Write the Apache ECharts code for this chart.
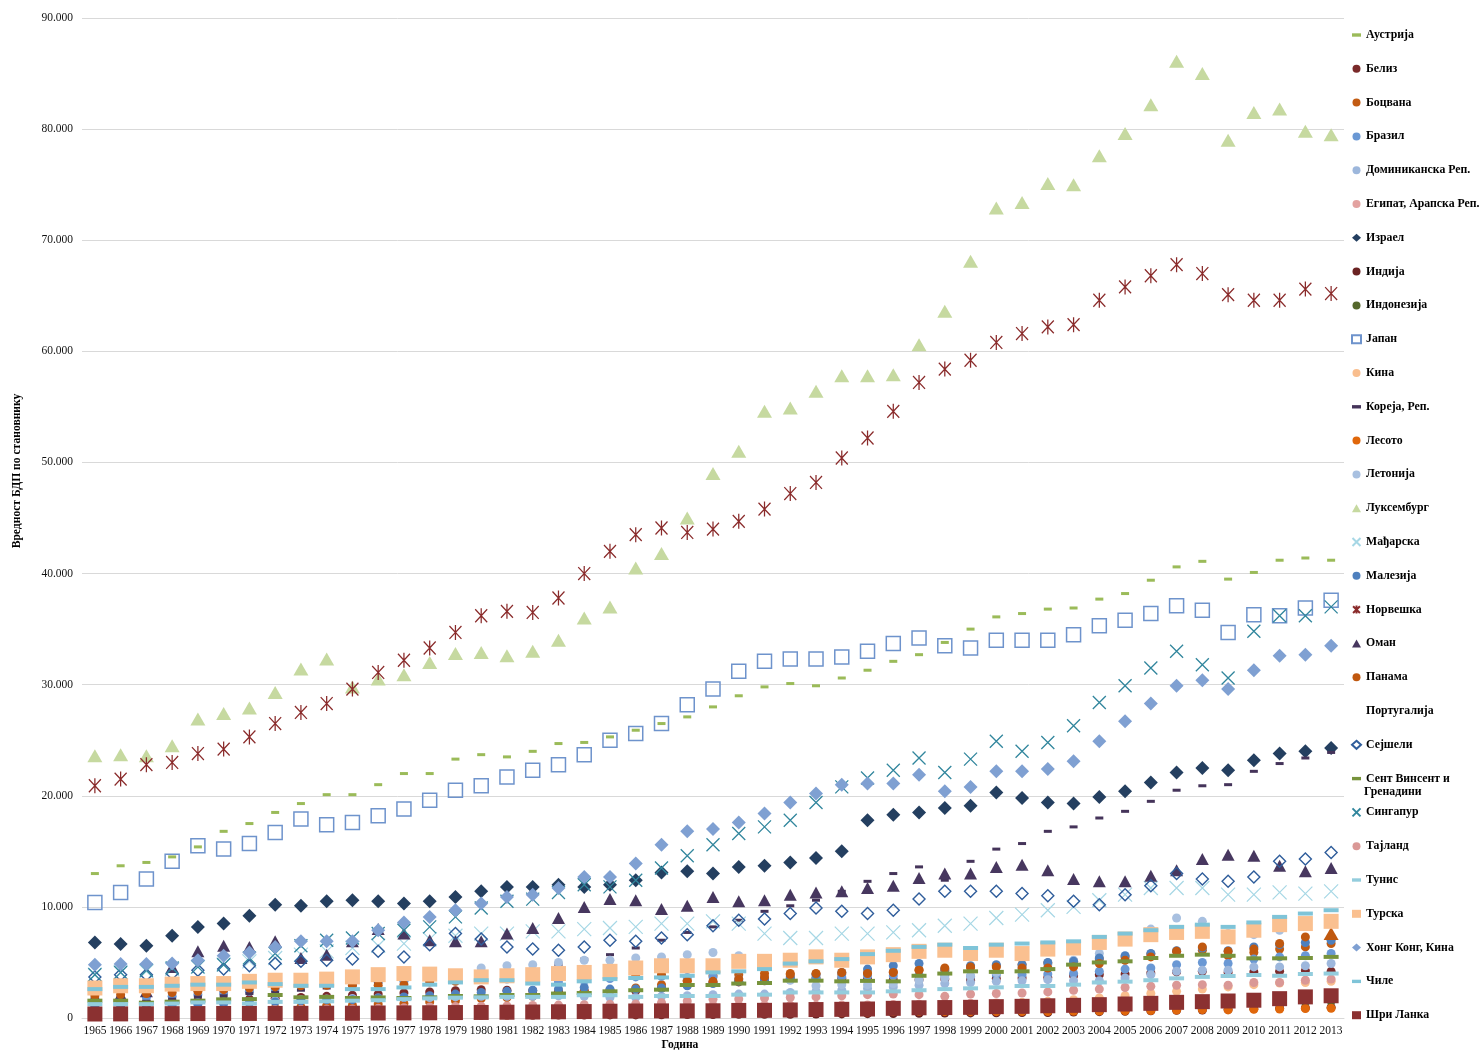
<!DOCTYPE html>
<html>
<head>
<meta charset="utf-8">
<script src="https://cdn.jsdelivr.net/npm/echarts@6/dist/echarts.min.js"></script>
<style>
  html, body { margin: 0; padding: 0; background: #fff; }
  #chart { width: 1483px; height: 1051px; }
</style>
</head>
<body>
<div id="chart"></div>
<script>
// GDP per capita, 1965–2013
const years = ['1965','1966','1967','1968','1969','1970','1971','1972','1973','1974',
  '1975','1976','1977','1978','1979','1980','1981','1982','1983','1984',
  '1985','1986','1987','1988','1989','1990','1991','1992','1993','1994',
  '1995','1996','1997','1998','1999','2000','2001','2002','2003','2004',
  '2005','2006','2007','2008','2009','2010','2011','2012','2013'];

const yTicks = [0, 10000, 20000, 30000, 40000, 50000, 60000, 70000, 80000, 90000];

const austria = [13000,13700,14000,14500,15400,16800,17500,18500,19300,20100,
  20100,21000,22000,22000,23300,23700,23500,24000,24700,24800,
  25300,25900,26500,27100,28000,29000,29800,30100,29900,30600,
  31300,32100,32700,33800,35000,36100,36400,36800,36900,37700,
  38200,39400,40600,41100,39500,40100,41200,41400,41200];
const belize = [1350,1400,1450,1500,1550,1620,1700,1780,1850,1950,
  2050,2150,2250,2350,2450,2550,2500,2450,2400,2450,
  2450,2450,2700,2950,3200,3250,3350,3550,3600,3550,
  3500,3450,3450,3500,3400,3550,3600,3650,3800,3900,
  3950,4050,4150,4200,4100,4150,4200,4250,4200];
const botswana = [400,420,450,480,550,620,720,850,1000,1100,
  1150,1250,1300,1450,1550,1750,1850,1950,2200,2400,
  2500,2700,3000,3400,3800,3900,4000,4000,3950,3950,
  4050,4150,4350,4300,4550,4700,4800,4950,5100,5300,
  5500,5750,6000,6100,5600,5900,6200,6400,6700];
const brazil = [1750,1800,1850,1950,2100,2250,2400,2600,2850,3000,
  3050,3250,3300,3400,3550,3750,3500,3450,3250,3350,
  3550,3700,3750,3650,3700,3500,3500,3450,3550,3700,
  3800,3800,3850,3800,3750,3900,3900,3950,4000,4200,
  4400,4500,4800,5000,4900,5300,5500,5600,5800];
const dominican = [1050,1150,1150,1150,1250,1350,1450,1550,1650,1700,
  1750,1800,1850,1850,1900,1950,1950,1950,2000,1950,
  1850,1850,1950,2000,2100,2150,2150,2300,2400,2500,
  2650,2800,2950,3100,3200,3300,3350,3450,3350,3350,
  3600,3900,4200,4300,4300,4600,4600,4700,4900];
const egypt = [450,460,460,470,500,520,530,540,550,570,
  620,700,780,800,860,900,920,980,1020,1050,
  1080,1080,1100,1120,1130,1140,1130,1140,1140,1160,
  1180,1210,1240,1280,1320,1360,1370,1370,1380,1400,
  1430,1500,1560,1620,1650,1700,1680,1670,1680];
const israel = [6800,6650,6500,7400,8200,8500,9200,10200,10100,10500,
  10600,10500,10300,10500,10900,11400,11800,11800,12000,11800,
  12000,12400,13100,13200,13000,13600,13700,14000,14400,15000,
  17800,18300,18500,18900,19100,20300,19800,19400,19300,19900,
  20400,21200,22100,22500,22300,23200,23800,24000,24300];
const india = [220,210,210,220,230,230,230,220,220,220,
  230,230,240,250,230,240,250,250,260,270,
  280,280,290,310,320,330,330,340,350,370,
  390,410,420,440,460,470,490,500,530,570,
  610,650,700,720,770,840,880,910,960];
const indonesia = [240,240,230,250,270,280,290,310,330,340,
  350,370,390,410,420,450,480,490,510,540,
  550,580,600,630,670,710,750,790,840,890,
  950,1010,1040,880,880,920,950,980,1010,1050,
  1090,1130,1180,1240,1280,1340,1400,1460,1520];
const japan = [10400,11300,12500,14100,15500,15200,15700,16700,17900,17400,
  17600,18200,18800,19600,20500,20900,21700,22300,22800,23700,
  25000,25600,26500,28200,29600,31200,32100,32300,32300,32500,
  33000,33700,34200,33500,33300,34000,34000,34000,34500,35300,
  35800,36400,37100,36700,34700,36300,36200,36900,37600];
const china = [140,150,140,130,150,170,180,180,190,190,
  200,200,210,230,240,260,270,290,310,350,
  390,420,460,500,510,530,570,650,730,820,
  900,980,1060,1130,1210,1300,1400,1500,1650,1800,
  2000,2200,2400,2600,2800,3000,3150,3200,3300];
const korea = [1300,1400,1500,1700,1900,2000,2200,2300,2500,2700,
  2900,3200,3500,3800,4000,3800,4000,4300,4800,5300,
  5700,6300,7000,7700,8200,8800,9600,10100,10600,11400,
  12300,13000,13600,12400,14100,15200,15700,16800,17200,18000,
  18600,19500,20500,20900,21000,22200,22900,23400,23900];
const lesotho = [220,230,230,240,250,260,250,290,330,330,
  320,360,390,450,440,440,430,410,380,390,
  390,390,400,420,450,470,480,500,510,520,
  530,570,600,570,570,570,580,590,610,630,
  640,680,710,750,730,780,810,850,880];
const latvia = [null,null,null,null,null,null,null,null,null,null,
  null,null,null,null,null,4500,4700,4800,5000,5200,
  5200,5400,5500,5700,5900,5600,5000,3400,2900,3000,
  3000,3100,3400,3600,3800,4100,4500,4800,5200,5800,
  6900,8000,9000,8700,7600,7500,7900,8300,8600];
const luxembourg = [23600,23700,23600,24500,26900,27400,27900,29300,31400,32300,
  29800,30500,30900,32000,32800,32900,32600,33000,34000,36000,
  37000,40500,41800,45000,49000,51000,54600,54900,56400,57800,
  57800,57900,60600,63600,68100,72900,73400,75100,75000,77600,
  79600,82200,86100,85000,79000,81500,81800,79800,79500];
const hungary = [3900,4100,4200,4400,4600,4800,5100,5400,5700,6000,
  6300,6500,6700,7100,7400,7600,7600,7800,7800,8000,
  8100,8200,8500,8500,8700,8500,7600,7200,7200,7600,
  7600,7700,7900,8300,8500,9000,9300,9700,10000,10600,
  11100,11700,11700,11700,11100,11100,11300,11200,11400];
const malaysia = [1100,1150,1150,1200,1250,1300,1350,1450,1550,1650,
  1650,1800,1900,2000,2150,2300,2400,2500,2600,2750,
  2600,2600,2700,2900,3100,3300,3500,3700,3900,4100,
  4400,4700,4900,4400,4700,4800,4800,5000,5100,5400,
  5600,5800,6050,6300,6050,6400,6600,6800,7000];
const norway = [20900,21500,22800,23000,23800,24200,25300,26500,27500,28300,
  29600,31100,32200,33300,34700,36200,36600,36500,37800,40000,
  42000,43500,44100,43700,44000,44700,45800,47200,48200,50400,
  52200,54600,57200,58400,59200,60800,61600,62200,62400,64600,
  65800,66800,67800,67000,65100,64600,64600,65600,65200];
const oman = [1900,2100,2400,4600,6000,6500,6400,6900,5400,5700,
  6900,8000,7600,7000,6900,6900,7600,8100,9000,10000,
  10700,10600,9800,10100,10900,10500,10600,11100,11300,11400,
  11700,11900,12600,13000,13000,13600,13800,13300,12500,12300,
  12300,12800,13300,14300,14700,14600,13700,13200,13500];
const panama = [2000,2100,2200,2300,2400,2550,2700,2800,2900,2950,
  2950,2950,3000,3250,3300,3700,3800,3900,3800,3700,
  3800,3900,3900,3300,3300,3500,3700,3900,4000,4100,
  4000,4100,4300,4500,4600,4600,4500,4500,4600,4900,
  5200,5500,6000,6400,6000,6200,6700,7300,7600];
const portugal = []; // listed in the legend, no markers plotted
const seychelles = [3700,3900,3900,4000,4300,4400,4700,4900,5100,5200,
  5300,6000,5500,6600,7600,7100,6400,6200,6100,6400,
  7000,6900,7200,7500,8300,8800,8900,9400,9900,9600,
  9400,9700,10700,11400,11400,11400,11200,11000,10500,10200,
  11100,11900,13000,12500,12300,12700,14100,14300,14900];
const stVincent = [1560,1560,1380,1470,1560,1680,1700,2070,1860,1900,
  1800,1850,1800,1860,1980,1950,2070,2070,2200,2250,
  2400,2500,2550,2970,2970,3100,3150,3360,3360,3300,
  3340,3300,3800,4000,4200,4150,4200,4400,4800,5000,
  5100,5400,5600,5700,5600,5370,5370,5400,5500];
const singapore = [3900,4100,4300,4500,4600,4800,5400,5800,6500,7000,
  7200,7600,7900,8200,9100,9900,10500,10700,11300,12000,
  11800,12400,13500,14600,15600,16600,17200,17800,19400,20800,
  21600,22300,23400,22100,23300,24900,24000,24800,26300,28400,
  29900,31500,33000,31800,30600,34800,36200,36200,37000];
const thailand = [550,600,620,650,680,700,720,740,780,800,
  820,870,930,1000,1030,1050,1090,1120,1160,1200,
  1230,1270,1370,1520,1690,1700,1800,1850,1900,2000,
  2100,2150,2100,1950,2150,2200,2250,2350,2500,2600,
  2750,2850,2950,3000,2950,3200,3200,3400,3500];
const tunisia = [1250,1250,1250,1300,1400,1400,1300,1450,1450,1500,
  1560,1600,1700,1770,1830,1860,1900,1900,1900,2050,
  2050,1900,1980,1980,1980,2100,2100,2300,2300,2300,
  2300,2400,2500,2600,2670,2760,2880,2880,3000,3200,
  3270,3400,3570,3700,3780,3870,3800,3960,4000];
const turkey = [2700,2900,2900,3050,3100,3100,3300,3400,3400,3500,
  3700,3900,4000,3950,3800,3700,3800,3900,4000,4100,
  4200,4500,4700,4700,4700,5100,5100,5200,5500,5200,
  5500,5700,6000,6100,5800,6100,5800,6200,6300,6800,
  7100,7500,7700,7800,7300,7900,8400,8500,8700];
const hongKong = [4800,4850,4850,4900,5200,5600,5900,6400,6900,6900,
  6900,7900,8600,9100,9700,10300,10900,11100,11700,12700,
  12700,13900,15600,16800,17000,17600,18400,19400,20200,21000,
  21100,21100,21900,20400,20800,22200,22200,22400,23100,24900,
  26700,28300,29900,30400,29600,31300,32600,32700,33500];
const chile = [2600,2800,2800,2900,3000,3000,3200,3050,2900,2900,
  2600,2600,2750,3000,3200,3400,3400,3100,3000,3300,
  3500,3600,3650,3800,4100,4200,4400,4900,5100,5300,
  5750,6050,6400,6600,6300,6600,6700,6800,6900,7300,
  7600,7900,8200,8400,8200,8600,9100,9400,9700];
const sriLanka = [360,370,380,390,400,410,410,410,420,430,
  430,450,460,470,490,500,520,540,560,580,
  610,630,640,640,650,680,690,720,760,780,
  810,870,920,940,960,1020,1050,1100,1140,1200,
  1260,1320,1410,1470,1530,1600,1740,1900,2000];

// Marker shapes
const X_PATH = 'path://M0,0L10,10M10,0L0,10';
const STAR_PATH = 'path://M0,1L12,13M12,1L0,13M6,0L6,14';
const DASH_ICON = 'path://M0,0H8V3H0Z';
const FONT = 'Liberation Serif';

function filled(color) { return { color: color, opacity: 1 }; }
function outline(color, w) { return { color: 'rgba(0,0,0,0)', borderColor: color, borderWidth: w, opacity: 1 }; }

const seriesDefs = [
  { name: 'Аустрија', values: austria, symbol: 'rect', size: [8, 3], style: filled('#9BBB59'), icon: DASH_ICON },
  { name: 'Белиз', values: belize, symbol: 'circle', size: 9, style: filled('#7A2A2A') },
  { name: 'Боцвана', values: botswana, symbol: 'circle', size: 9, style: filled('#C25B12') },
  { name: 'Бразил', values: brazil, symbol: 'circle', size: 9, style: filled('#6A98D4') },
  { name: 'Доминиканска Реп.', values: dominican, symbol: 'circle', size: 9, style: filled('#9DB7DC') },
  { name: 'Египат, Арапска Реп.', values: egypt, symbol: 'circle', size: 9, style: filled('#E3A2A0') },
  { name: 'Израел', values: israel, symbol: 'diamond', size: 14, style: filled('#243F60') },
  { name: 'Индија', values: india, symbol: 'circle', size: 9, style: filled('#6A2222') },
  { name: 'Индонезија', values: indonesia, symbol: 'circle', size: 9, style: filled('#55682C') },
  { name: 'Јапан', values: japan, symbol: 'rect', size: 14, style: outline('#6E93CC', 1.5) },
  { name: 'Кина', values: china, symbol: 'circle', size: 9, style: filled('#F9BE8E') },
  { name: 'Кореја, Реп.', values: korea, symbol: 'rect', size: [8, 3], style: filled('#45345A'), icon: DASH_ICON },
  { name: 'Лесото', values: lesotho, symbol: 'circle', size: 9, style: filled('#E0670B') },
  { name: 'Летонија', values: latvia, symbol: 'circle', size: 9, style: filled('#A8C0E0') },
  { name: 'Луксембург', values: luxembourg, symbol: 'triangle', size: [15, 13], style: filled('#C6D9A0') },
  { name: 'Мађарска', values: hungary, symbol: X_PATH, size: 14, style: outline('#A6D7E5', 1.2) },
  { name: 'Малезија', values: malaysia, symbol: 'circle', size: 9, style: filled('#4E80BE') },
  { name: 'Норвешка', values: norway, symbol: STAR_PATH, size: [14, 15], style: outline('#8A2B2B', 1.3) },
  { name: 'Оман', values: oman, symbol: 'triangle', size: [13, 12], style: filled('#47375F') },
  { name: 'Панама', values: panama, symbol: 'circle', size: 9, style: filled('#C0580F'),
    special: { year: '2013', symbol: 'triangle', size: [15, 13] } },
  { name: 'Португалија', values: portugal, symbol: 'none', size: 0, style: filled('#888'), icon: 'none' },
  { name: 'Сејшели', values: seychelles, symbol: 'diamond', size: 12, style: outline('#2F5D9B', 1.4) },
  { name: 'Сент Винсент и Гренадини', values: stVincent, symbol: 'rect', size: [15, 4], style: filled('#77933C'), icon: DASH_ICON },
  { name: 'Сингапур', values: singapore, symbol: X_PATH, size: 13, style: outline('#31869D', 1.3) },
  { name: 'Тајланд', values: thailand, symbol: 'circle', size: 9, style: filled('#DA9896') },
  { name: 'Тунис', values: tunisia, symbol: 'rect', size: [15, 4], style: filled('#93CDDD'), icon: DASH_ICON },
  { name: 'Турска', values: turkey, symbol: 'rect', size: 15, style: filled('#FAC090') },
  { name: 'Хонг Конг, Кина', values: hongKong, symbol: 'diamond', size: 14, style: filled('#7FA0D2') },
  { name: 'Чиле', values: chile, symbol: 'rect', size: [15, 4], style: filled('#7FC4D8'), icon: DASH_ICON },
  { name: 'Шри Ланка', values: sriLanka, symbol: 'rect', size: 15, style: filled('#8B3131') }
];

const series = seriesDefs.map(function (d) {
  const data = [];
  d.values.forEach(function (v, i) {
    if (v == null) return;
    if (d.special && years[i] === d.special.year) {
      data.push({ value: [i, v], symbol: d.special.symbol, symbolSize: d.special.size });
    } else {
      data.push([i, v]);
    }
  });
  return {
    name: d.name,
    type: 'scatter',
    data: data,
    symbol: d.symbol,
    symbolSize: d.size,
    symbolKeepAspect: true,
    itemStyle: d.style,
    emphasis: { disabled: true },
    clip: false,
    silent: true
  };
});

const legendData = seriesDefs.map(function (d) {
  return d.icon ? { name: d.name, icon: d.icon } : { name: d.name };
});

function thousands(v) {
  return String(v).replace(/\B(?=(\d{3})+(?!\d))/g, '.');
}

const chart = echarts.init(document.getElementById('chart'), null, { renderer: 'canvas' });
chart.setOption({
  animation: false,
  backgroundColor: '#ffffff',
  textStyle: { fontFamily: FONT },
  grid: { left: 82, right: 139, top: 18, bottom: 33, containLabel: false },
  xAxis: {
    type: 'category',
    data: years,
    boundaryGap: true,
    axisLine: { show: true, lineStyle: { color: '#D9D9D9', width: 1 } },
    axisTick: { show: false },
    axisLabel: { interval: 0, margin: 7, fontSize: 11.5, color: '#111', fontFamily: FONT },
    splitLine: { show: false }
  },
  yAxis: {
    type: 'value',
    min: yTicks[0],
    max: yTicks[yTicks.length - 1],
    interval: yTicks[1] - yTicks[0],
    axisLine: { show: false },
    axisTick: { show: false },
    axisLabel: { margin: 9, fontSize: 11.5, color: '#111', fontFamily: FONT, formatter: thousands },
    splitLine: { show: true, lineStyle: { color: '#D9D9D9', width: 1 } }
  },
  legend: {
    orient: 'vertical',
    left: 1351,
    top: 29,
    padding: 0,
    itemGap: 21.8,
    itemWidth: 9,
    itemHeight: 8,
    selectedMode: false,
    data: legendData,
    formatter: function (name) {
      return name === 'Сент Винсент и Гренадини' ? 'Сент Винсент и' : name;
    },
    textStyle: { fontFamily: FONT, fontWeight: 'bold', fontSize: 11.8, color: '#000', lineHeight: 12 }
  },
  graphic: [
    {
      type: 'text', silent: true,
      rotation: Math.PI / 2,
      x: 17, y: 471,
      style: { text: 'Вредност БДП по становнику', font: 'bold 11.6px "Liberation Serif"', fill: '#000',
               textAlign: 'center', textVerticalAlign: 'middle' }
    },
    {
      type: 'text', silent: true,
      x: 680, y: 1045,
      style: { text: 'Година', font: 'bold 11.6px "Liberation Serif"', fill: '#000',
               textAlign: 'center', textVerticalAlign: 'middle' }
    },
    {
      type: 'text', silent: true,
      x: 1364, y: 792,
      style: { text: 'Гренадини', font: 'bold 11.8px "Liberation Serif"', fill: '#000',
               textAlign: 'left', textVerticalAlign: 'middle' }
    }
  ],
  series: series
});
</script>
</body>
</html>
